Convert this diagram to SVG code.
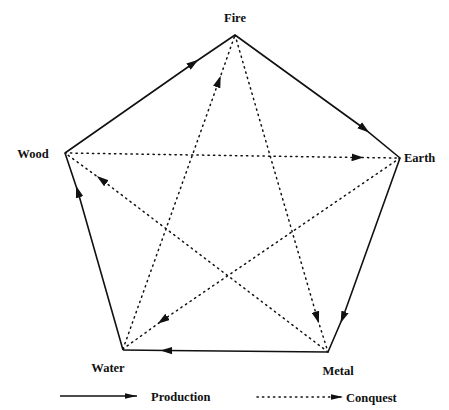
<svg xmlns="http://www.w3.org/2000/svg" width="449" height="410" viewBox="0 0 449 410">
<style>
.lbl{font-family:"Liberation Serif",serif;font-weight:bold;font-size:12.5px;fill:#111}
.solid{fill:none;stroke:#111;stroke-width:1.6;stroke-linejoin:miter}
.dot{fill:none;stroke:#111;stroke-width:1.5;stroke-dasharray:1.3 4.2;stroke-linecap:round}
</style>
<defs>
<marker id="ah" markerUnits="userSpaceOnUse" markerWidth="12" markerHeight="8" refX="5" refY="3.5" orient="auto" viewBox="0 0 11 7">
<path d="M0,0 L11,3.5 L0,7 Z" fill="#111"/>
</marker>
<marker id="ahEnd" markerUnits="userSpaceOnUse" markerWidth="12" markerHeight="8" refX="11" refY="3.5" orient="auto" viewBox="0 0 11 7">
<path d="M0,1 L11,3.5 L0,6 Z" fill="#111"/>
</marker>
</defs>
<rect width="449" height="410" fill="#fff"/>
<g id="connectors">
<g id="production">
<path class="solid" d="M65,153 L193,63.5 L235,35" marker-mid="url(#ah)"/>
<path class="solid" d="M235,35 L364,128.5 L400,158" marker-mid="url(#ah)"/>
<path class="solid" d="M400,158 L343,317 L328,352" marker-mid="url(#ah)"/>
<path class="solid" d="M328,352 L167,350.5 L123,350" marker-mid="url(#ah)"/>
<path class="solid" d="M123,350 L78,192 L65,153" marker-mid="url(#ah)"/>
</g>
<g id="conquest">
<path class="dot" d="M65,153 L357,157.5 L400,158" marker-mid="url(#ah)"/>
<path class="dot" d="M400,158 L163,320 L123,349" marker-mid="url(#ah)"/>
<path class="dot" d="M123,349 L218.5,82 L235,35" marker-mid="url(#ah)"/>
<path class="dot" d="M235,35 L317,317 L328,352" marker-mid="url(#ah)"/>
<path class="dot" d="M328,352 L102,180 L65,153" marker-mid="url(#ah)"/>
</g>
</g>
<g id="fire"><text class="lbl" x="235" y="22" text-anchor="middle">Fire</text></g>
<g id="wood"><text class="lbl" x="33" y="158" text-anchor="middle">Wood</text></g>
<g id="earth"><text class="lbl" x="404" y="162">Earth</text></g>
<g id="water"><text class="lbl" x="108" y="372" text-anchor="middle">Water</text></g>
<g id="metal"><text class="lbl" x="338" y="375" text-anchor="middle">Metal</text></g>
<g id="legend">
<path class="solid" d="M60,396 L137,396" marker-end="url(#ahEnd)"/>
<text class="lbl" x="151" y="401">Production</text>
<path class="dot" d="M257,397 L343,397" marker-end="url(#ahEnd)"/>
<text class="lbl" x="346" y="402">Conquest</text>
</g>
</svg>
